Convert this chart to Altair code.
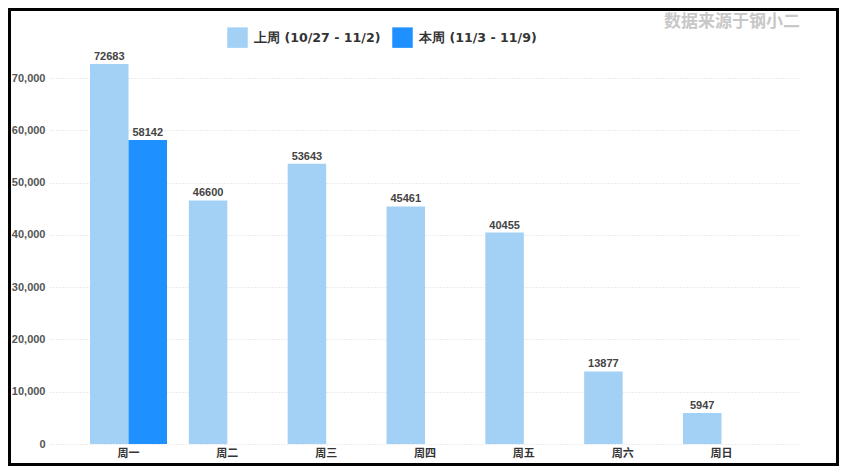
import altair as alt
import pandas as pd

days = ["周一", "周二", "周三", "周四", "周五", "周六", "周日"]
series = ["上周 (10/27 - 11/2)", "本周 (11/3 - 11/9)"]
last_week = [72683, 46600, 53643, 45461, 40455, 13877, 5947]
this_week_days = ["周一"]
this_week = [58142]
colors = ["#A3D0F5", "#1E90FF"]
y_ticks = [0, 10000, 20000, 30000, 40000, 50000, 60000, 70000]
source_title = "数据来源于钢小二"

rows = [{"day": d, "series": series[0], "value": v} for d, v in zip(days, last_week)]
rows += [{"day": d, "series": series[1], "value": v} for d, v in zip(this_week_days, this_week)]
df = pd.DataFrame(rows)

x_enc = alt.X(
    "day:N",
    sort=days,
    scale=alt.Scale(paddingInner=0.221, paddingOuter=0.405),
    axis=alt.Axis(
        title=None, labelAngle=0, domain=False, ticks=False,
        labelFont="Noto Sans CJK SC", labelFontWeight="bold", labelFontSize=11,
        labelColor="#333333", labelPadding=3,
    ),
)
xo_enc = alt.XOffset("series:N", sort=series, scale=alt.Scale(domain=series, paddingInner=0, paddingOuter=0))
y_enc = alt.Y(
    "value:Q",
    scale=alt.Scale(domain=[0, 75000], nice=False),
    axis=alt.Axis(
        title=None, values=y_ticks, format=",.0f", domain=False, ticks=False,
        grid=True, gridDash=[1, 2], gridColor="#d8d8d8",
        labelFont="Liberation Sans", labelFontWeight="bold", labelFontSize=11,
        labelColor="#555555", labelPadding=5,
    ),
)

base = alt.Chart(df)

bars = base.mark_bar().encode(
    x=x_enc,
    xOffset=xo_enc,
    y=y_enc,
    color=alt.Color(
        "series:N",
        sort=series,
        scale=alt.Scale(domain=series, range=colors),
        legend=alt.Legend(
            title=None, orient="none", legendX=177, legendY=-25,
            direction="horizontal", symbolType="square", symbolSize=420,
            symbolStrokeWidth=0, symbolOpacity=1,
            labelFont="DejaVu Sans", labelFontWeight="bold", labelFontSize=12.6,
            labelColor="#333333", labelOffset=6, columnPadding=11, padding=0,
        ),
    ),
)

labels = base.mark_text(
    baseline="bottom", dy=-2, font="Liberation Sans", fontWeight="bold",
    fontSize=11, color="#444444",
).encode(
    x=x_enc,
    xOffset=xo_enc,
    y=y_enc,
    text=alt.Text("value:Q", format="d"),
)

title_df = pd.DataFrame({"t": [source_title]})
title = alt.Chart(title_df).mark_text(
    font="Noto Sans CJK SC", fontWeight="bold", fontSize=17, color="#c8c8c8",
    align="center", baseline="middle",
).encode(text="t:N", x=alt.value(682), y=alt.value(-30))

frame = alt.Chart(pd.DataFrame({"f": [0]})).mark_rect(
    fill="transparent", stroke="black", strokeWidth=3,
).encode(x=alt.value(-40.5), x2=alt.value(787.5), y=alt.value(-42.5), y2=alt.value(412.5))

chart = alt.layer(bars, labels, title, frame).properties(
    width=750,
    height=392,
    autosize=alt.AutoSizeParams(type="none"),
    padding={"left": 42, "top": 44, "right": 39, "bottom": 23},
    background="white",
).configure_view(stroke=None)

chart.save("out.html", embed_options={"renderer": "svg", "actions": False})
